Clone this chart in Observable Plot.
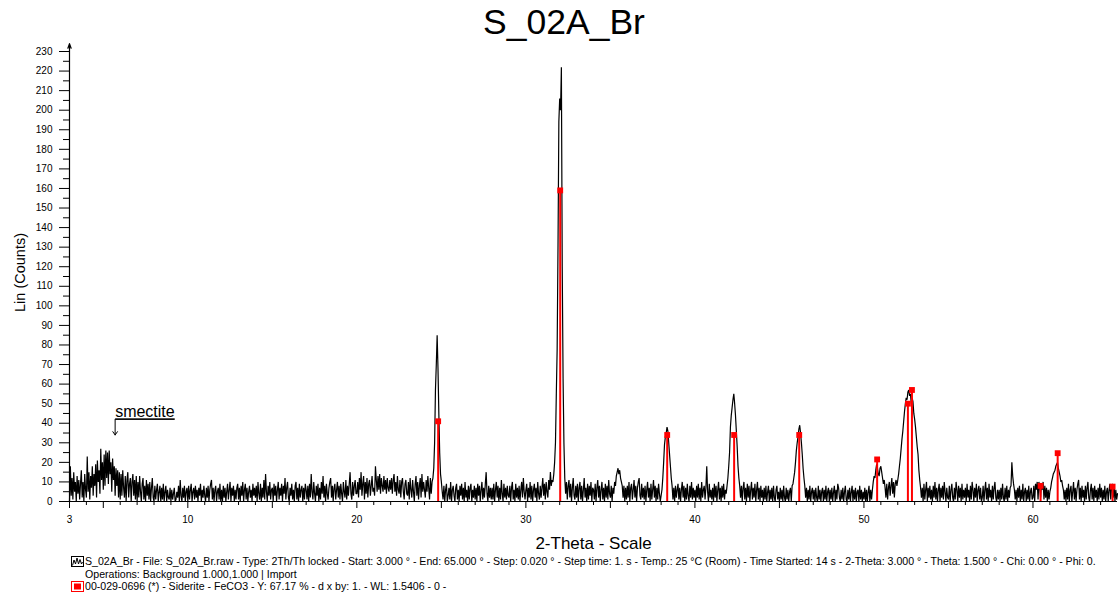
<!DOCTYPE html>
<html><head><meta charset="utf-8">
<script src="https://cdn.jsdelivr.net/npm/d3@7"></script>
<script src="https://cdn.jsdelivr.net/npm/@observablehq/plot@0.6"></script>
<style>
body{margin:0;background:#fff;font-family:"Liberation Sans",Arial,sans-serif;}
#wrap{position:relative;width:1118px;height:595px;overflow:hidden;background:#fff}
#chart{position:absolute;left:0;top:0}
#title{position:absolute;left:0;width:1128px;top:1px;text-align:center;font-size:35.5px;line-height:42px;color:#000}
.legend{position:absolute;left:71px;top:555px;font-size:10.6px;line-height:12.5px;color:#000;white-space:nowrap}
.legend .row{height:12.5px;display:flex;align-items:center}
.legend svg{margin-right:1px;flex:none}
.legend .indent{padding-left:14px}
.smectite text{text-decoration:underline}
</style></head>
<body>
<div id="wrap">
  <div id="chart"></div>
  <div id="title"></div>
  <div class="legend" id="legend"></div>
</div>
<script>
// ---- data ----
const chartTitle = "S_02A_Br";
const startAngle = 3.0;   // 2-Theta of the first sample (°)
const stepAngle = 0.05;   // sampling step used for the values below (°)
// Lin (Counts), one line per degree: d.00, d.05, ... d.95
const counts = [
  0,18,3,12,1,15,5,10,0,13,4,11,1,9,16,2,10,0,14,6,       // 3
  2,23,5,15,1,13,7,18,3,14,8,19,2,21,10,16,4,27,11,20,    // 4
  6,24,8,26,12,25,9,26,14,20,5,22,11,18,3,17,8,16,2,15,   // 5
  1,14,3,16,7,2,13,0,11,15,2,9,12,0,10,14,3,11,1,13,      // 6
  0,10,2,13,5,0,9,12,1,8,0,11,3,9,1,10,0,7,12,2,          // 7
  0,8,1,6,9,0,5,8,0,7,1,9,0,5,8,0,6,2,1,7,                // 8
  0,6,1,4,7,0,1,5,2,8,0,11,3,0,7,2,8,0,5,7,               // 9
  0,8,1,6,9,0,5,7,1,8,2,6,0,7,3,9,0,6,2,8,                // 10
  3,0,7,2,8,0,6,9,11,1,7,0,6,8,0,5,7,1,9,0,               // 11
  6,0,8,2,7,0,5,9,1,6,10,0,7,3,8,0,6,1,7,9,               // 12
  1,7,0,8,3,10,0,6,9,1,7,0,5,8,2,6,0,9,3,7,               // 13
  2,8,0,10,4,1,9,0,7,2,11,1,14,5,0,8,3,10,1,6,            // 14
  7,0,9,3,8,0,6,10,1,7,3,9,0,8,4,12,1,7,10,2,             // 15
  0,7,3,9,1,6,0,8,10,1,7,0,9,2,6,8,0,7,1,9,               // 16
  6,1,8,0,9,2,14,5,1,10,4,0,8,3,9,0,7,1,10,4,             // 17
  13,2,8,0,9,4,1,7,10,12,2,8,0,7,9,1,6,10,2,8,            // 18
  1,9,4,0,10,5,2,11,1,8,3,9,15,4,1,10,3,8,11,4,           // 19
  4,10,2,12,6,15,3,9,13,1,10,4,12,2,9,11,3,8,13,5,        // 20
  7,3,18,11,5,13,6,14,4,12,8,5,13,6,11,4,12,7,5,11,       // 21
  6,12,4,11,14,5,10,3,13,6,4,11,2,10,12,5,1,9,11,4,       // 22
  3,10,1,12,6,2,11,5,0,9,13,3,10,1,8,12,2,14,5,10,        // 23
  6,2,11,5,13,7,1,12,4,10,12,17,30,57,70,85,68,45,25,14,  // 24
  10,5,1,8,0,6,9,0,3,7,1,10,0,6,8,3,0,7,9,1,              // 25
  6,0,8,3,9,1,7,0,10,2,6,0,8,1,7,9,0,6,2,8,               // 26
  1,7,0,9,3,8,0,6,10,1,7,2,9,15,4,0,8,2,7,1,              // 27
  7,1,9,0,6,10,2,8,0,7,1,11,4,0,9,2,7,1,8,3,              // 28
  2,8,0,7,10,1,6,0,9,2,7,1,8,0,6,10,2,12,5,1,             // 29
  6,9,0,7,2,10,1,8,0,6,9,2,7,0,10,4,1,8,2,7,              // 30
  12,3,9,1,10,5,2,11,6,15,8,11,10,14,20,30,55,78,130,194, // 31
  206,200,222,120,63,30,12,4,10,1,8,11,2,9,0,7,12,3,1,8,  // 32
  2,9,0,7,10,1,8,0,6,12,2,7,0,9,1,8,3,10,0,7,             // 33
  6,1,9,0,7,11,2,8,0,6,10,1,7,0,9,2,8,1,11,4,             // 34
  2,8,0,7,4,10,8,13,15,17,14,16,12,10,8,2,8,0,7,1,        // 35
  8,2,10,0,7,9,1,6,11,2,8,0,7,10,12,3,1,9,2,7,            // 36
  1,8,0,6,10,2,7,0,9,1,6,11,2,8,0,7,1,9,4,0,              // 37
  3,6,12,20,29,33,35,38,36,30,24,18,12,8,1,7,0,8,2,6,     // 38
  9,1,7,0,6,10,2,8,0,7,1,9,3,0,8,2,10,1,7,2,              // 39
  6,0,8,2,9,1,7,0,10,2,6,8,1,7,18,5,0,9,2,6,              // 40
  1,7,0,9,2,8,0,6,10,1,7,0,8,2,9,1,6,4,8,12,              // 41
  18,25,38,44,48,52,55,50,44,36,28,18,12,8,2,8,0,7,10,1,  // 42
  7,0,9,2,8,0,6,10,1,7,2,9,0,6,10,1,7,0,8,2,              // 43
  6,0,7,1,8,0,5,8,0,6,1,7,0,8,2,0,6,8,1,5,                // 44
  0,7,1,6,0,8,2,0,7,1,6,0,5,7,0,8,9,12,15,20,             // 45
  26,30,33,37,39,35,30,24,17,12,8,2,7,0,6,1,8,0,5,7,      // 46
  1,6,0,7,2,0,8,1,6,0,5,7,0,6,1,8,0,5,7,0,                // 47
  6,1,7,0,5,8,0,6,1,9,7,2,0,6,1,7,0,5,8,1,                // 48
  0,6,1,7,0,5,8,0,6,1,7,0,5,6,0,8,1,6,0,5,                // 49
  1,7,0,6,0,5,8,0,6,1,6,10,13,12,16,19,17,14,13,17,       // 50
  18,15,12,9,11,7,2,9,1,7,10,3,8,12,4,10,2,9,11,8,        // 51
  11,14,18,22,27,32,36,41,46,50,53,52,56,57,54,55,50,53,51,45, // 52
  42,38,33,28,24,16,11,7,2,7,0,9,1,6,10,0,7,2,8,1,        // 53
  6,0,8,2,10,1,7,0,6,9,0,7,2,8,1,10,5,0,7,2,              // 54
  1,8,0,6,9,2,0,7,1,10,6,0,8,2,7,0,9,1,6,2,               // 55
  7,0,9,2,6,0,8,1,10,6,0,7,2,9,0,6,8,1,7,0,               // 56
  2,8,0,6,10,1,7,0,9,2,6,0,8,1,7,10,2,0,6,1,              // 57
  6,0,7,1,9,2,0,7,1,8,0,6,2,7,8,20,13,9,6,1,              // 58
  6,0,7,2,8,0,6,1,9,0,5,7,0,6,1,8,0,5,7,1,                // 59
  2,8,0,9,6,10,1,10,7,2,9,6,10,1,8,2,7,0,6,1,             // 60
  5,7,10,12,14,15,16,18,19,20,17,15,13,10,11,8,6,1,6,0,   // 61
  7,1,9,0,6,8,0,5,10,1,7,0,6,9,11,1,7,0,8,2,              // 62
  6,0,8,1,7,10,2,0,6,9,1,7,0,8,2,6,0,7,1,9,               // 63
  2,7,0,6,1,8,0,5,7,0,6,9,1,7,9,2,8,0,6,1,                // 64
  4                                                       // 65
];
// Siderite reference pattern (00-029-0696), stick positions and heights
const refAngles  = [24.81, 32.03, 38.36, 42.32, 46.17, 50.78, 52.60, 52.84, 60.45, 61.46, 64.71];
const refHeights = [41, 159, 34, 34, 34, 21.5, 50, 57, 8, 24.7, 7.6];
// annotation
const noteText = ["smectite"];
const noteAngle = [5.7];
const noteTop = [42];
const noteTip = [34];
// axes
const yTickValues = [0,10,20,30,40,50,60,70,80,90,100,110,120,130,140,150,160,170,180,190,200,210,220,230];
const xTickLabels = [3,10,20,30,40,50,60];
const xLabel = "2-Theta - Scale";
const yLabel = "Lin (Counts)";
const legendRows = [
  "S_02A_Br - File: S_02A_Br.raw - Type: 2Th/Th locked - Start: 3.000 ° - End: 65.000 ° - Step: 0.020 ° - Step time: 1. s - Temp.: 25 °C (Room) - Time Started: 14 s - 2-Theta: 3.000 ° - Theta: 1.500 ° - Chi: 0.00 ° - Phi: 0.",
  "Operations: Background 1.000,1.000 | Import",
  "00-029-0696 (*) - Siderite - FeCO3 - Y: 67.17 % - d x by: 1. - WL: 1.5406 - 0 -"
];

// ---- build tables ----
const pattern = counts.map((c, i) => ({theta: +(startAngle + i * stepAngle).toFixed(2), counts: c}));
const sticks = refAngles.map((a, i) => ({angle: a, height: refHeights[i]}));
const notes = noteText.map((t, i) => ({text: t, x: noteAngle[i], top: noteTop[i], tip: noteTip[i]}));
const xMajor = d3.range(5, 65, 5).concat([3]);
const xMinor = d3.range(4, 65, 1).filter(v => v % 5 !== 0);
const yMinor = d3.range(5, 230, 10);

const chart = Plot.plot({
  width: 1118,
  height: 555,
  marginLeft: 69,
  marginRight: 1,
  marginTop: 51,
  marginBottom: 54,
  style: {fontFamily: "'Liberation Sans', Arial, sans-serif", fontSize: "10px", color: "#000", background: "transparent"},
  x: {domain: [3, 65]},
  y: {domain: [0, 230]},
  marks: [
    Plot.axisY(yTickValues, {tickSize: 10, tickPadding: 7, fontSize: 10, label: null}),
    Plot.axisY(yMinor, {tickSize: 6, text: null, label: null}),
    Plot.axisX(xTickLabels, {tickSize: 0, tickPadding: 14, fontSize: 10, label: null}),
    Plot.axisX(xMajor, {tickSize: 7, text: null, label: null}),
    Plot.axisX(xMinor, {tickSize: 4, text: null, label: null}),
    Plot.ruleY([0], {stroke: "#000"}),
    Plot.arrow([0], {x1: 3, x2: 3, y1: 0, y2: 234, stroke: "#000", headLength: 6, headAngle: 40, strokeWidth: 1.2}),
    Plot.text([xLabel], {frameAnchor: "bottom", lineAnchor: "middle", textAnchor: "middle", dy: 42, fontSize: 17, text: d => d}),
    Plot.text([yLabel], {frameAnchor: "left", textAnchor: "middle", lineAnchor: "middle", rotate: -90, dx: -49, dy: -4, fontSize: 14.5, text: d => d}),
    Plot.line(pattern, {x: "theta", y: "counts", stroke: "#000", strokeWidth: 1.2, strokeLinejoin: "miter"}),
    Plot.ruleX(sticks, {x: "angle", y1: 0, y2: "height", stroke: "#ff0000", strokeWidth: 2}),
    Plot.dot(sticks, {x: "angle", y: "height", symbol: "square", r: 3.3, fill: "#ff0000", stroke: null}),
    Plot.arrow(notes, {x1: "x", x2: "x", y1: "top", y2: "tip", stroke: "#000", headLength: 6, headAngle: 70, strokeWidth: 1}),
    Plot.text(notes, {x: "x", y: "top", text: "text", textAnchor: "start", lineAnchor: "bottom", dy: -2, fontSize: 16, className: "smectite"})
  ]
});
document.getElementById("chart").appendChild(chart);
document.getElementById("title").textContent = chartTitle;

const iconLine = '<svg width="13" height="11"><rect x="0.5" y="0.5" width="12" height="10" fill="none" stroke="#000"/><polyline points="1.5,9.5 3,4 4.5,8 6,2 7.5,8 9,3.5 10.5,8 11.5,6" fill="none" stroke="#000" stroke-width="1"/></svg>';
const iconRef = '<svg width="13" height="11"><rect x="0.5" y="0.5" width="12" height="10" fill="none" stroke="#ff0000"/><rect x="3" y="2.5" width="7" height="6" fill="#ff0000"/></svg>';
const leg = document.getElementById("legend");
leg.innerHTML =
  `<div class="row">${iconLine}<span>${legendRows[0]}</span></div>` +
  `<div class="row indent"><span>${legendRows[1]}</span></div>` +
  `<div class="row">${iconRef}<span>${legendRows[2]}</span></div>`;
</script>
</body></html>
